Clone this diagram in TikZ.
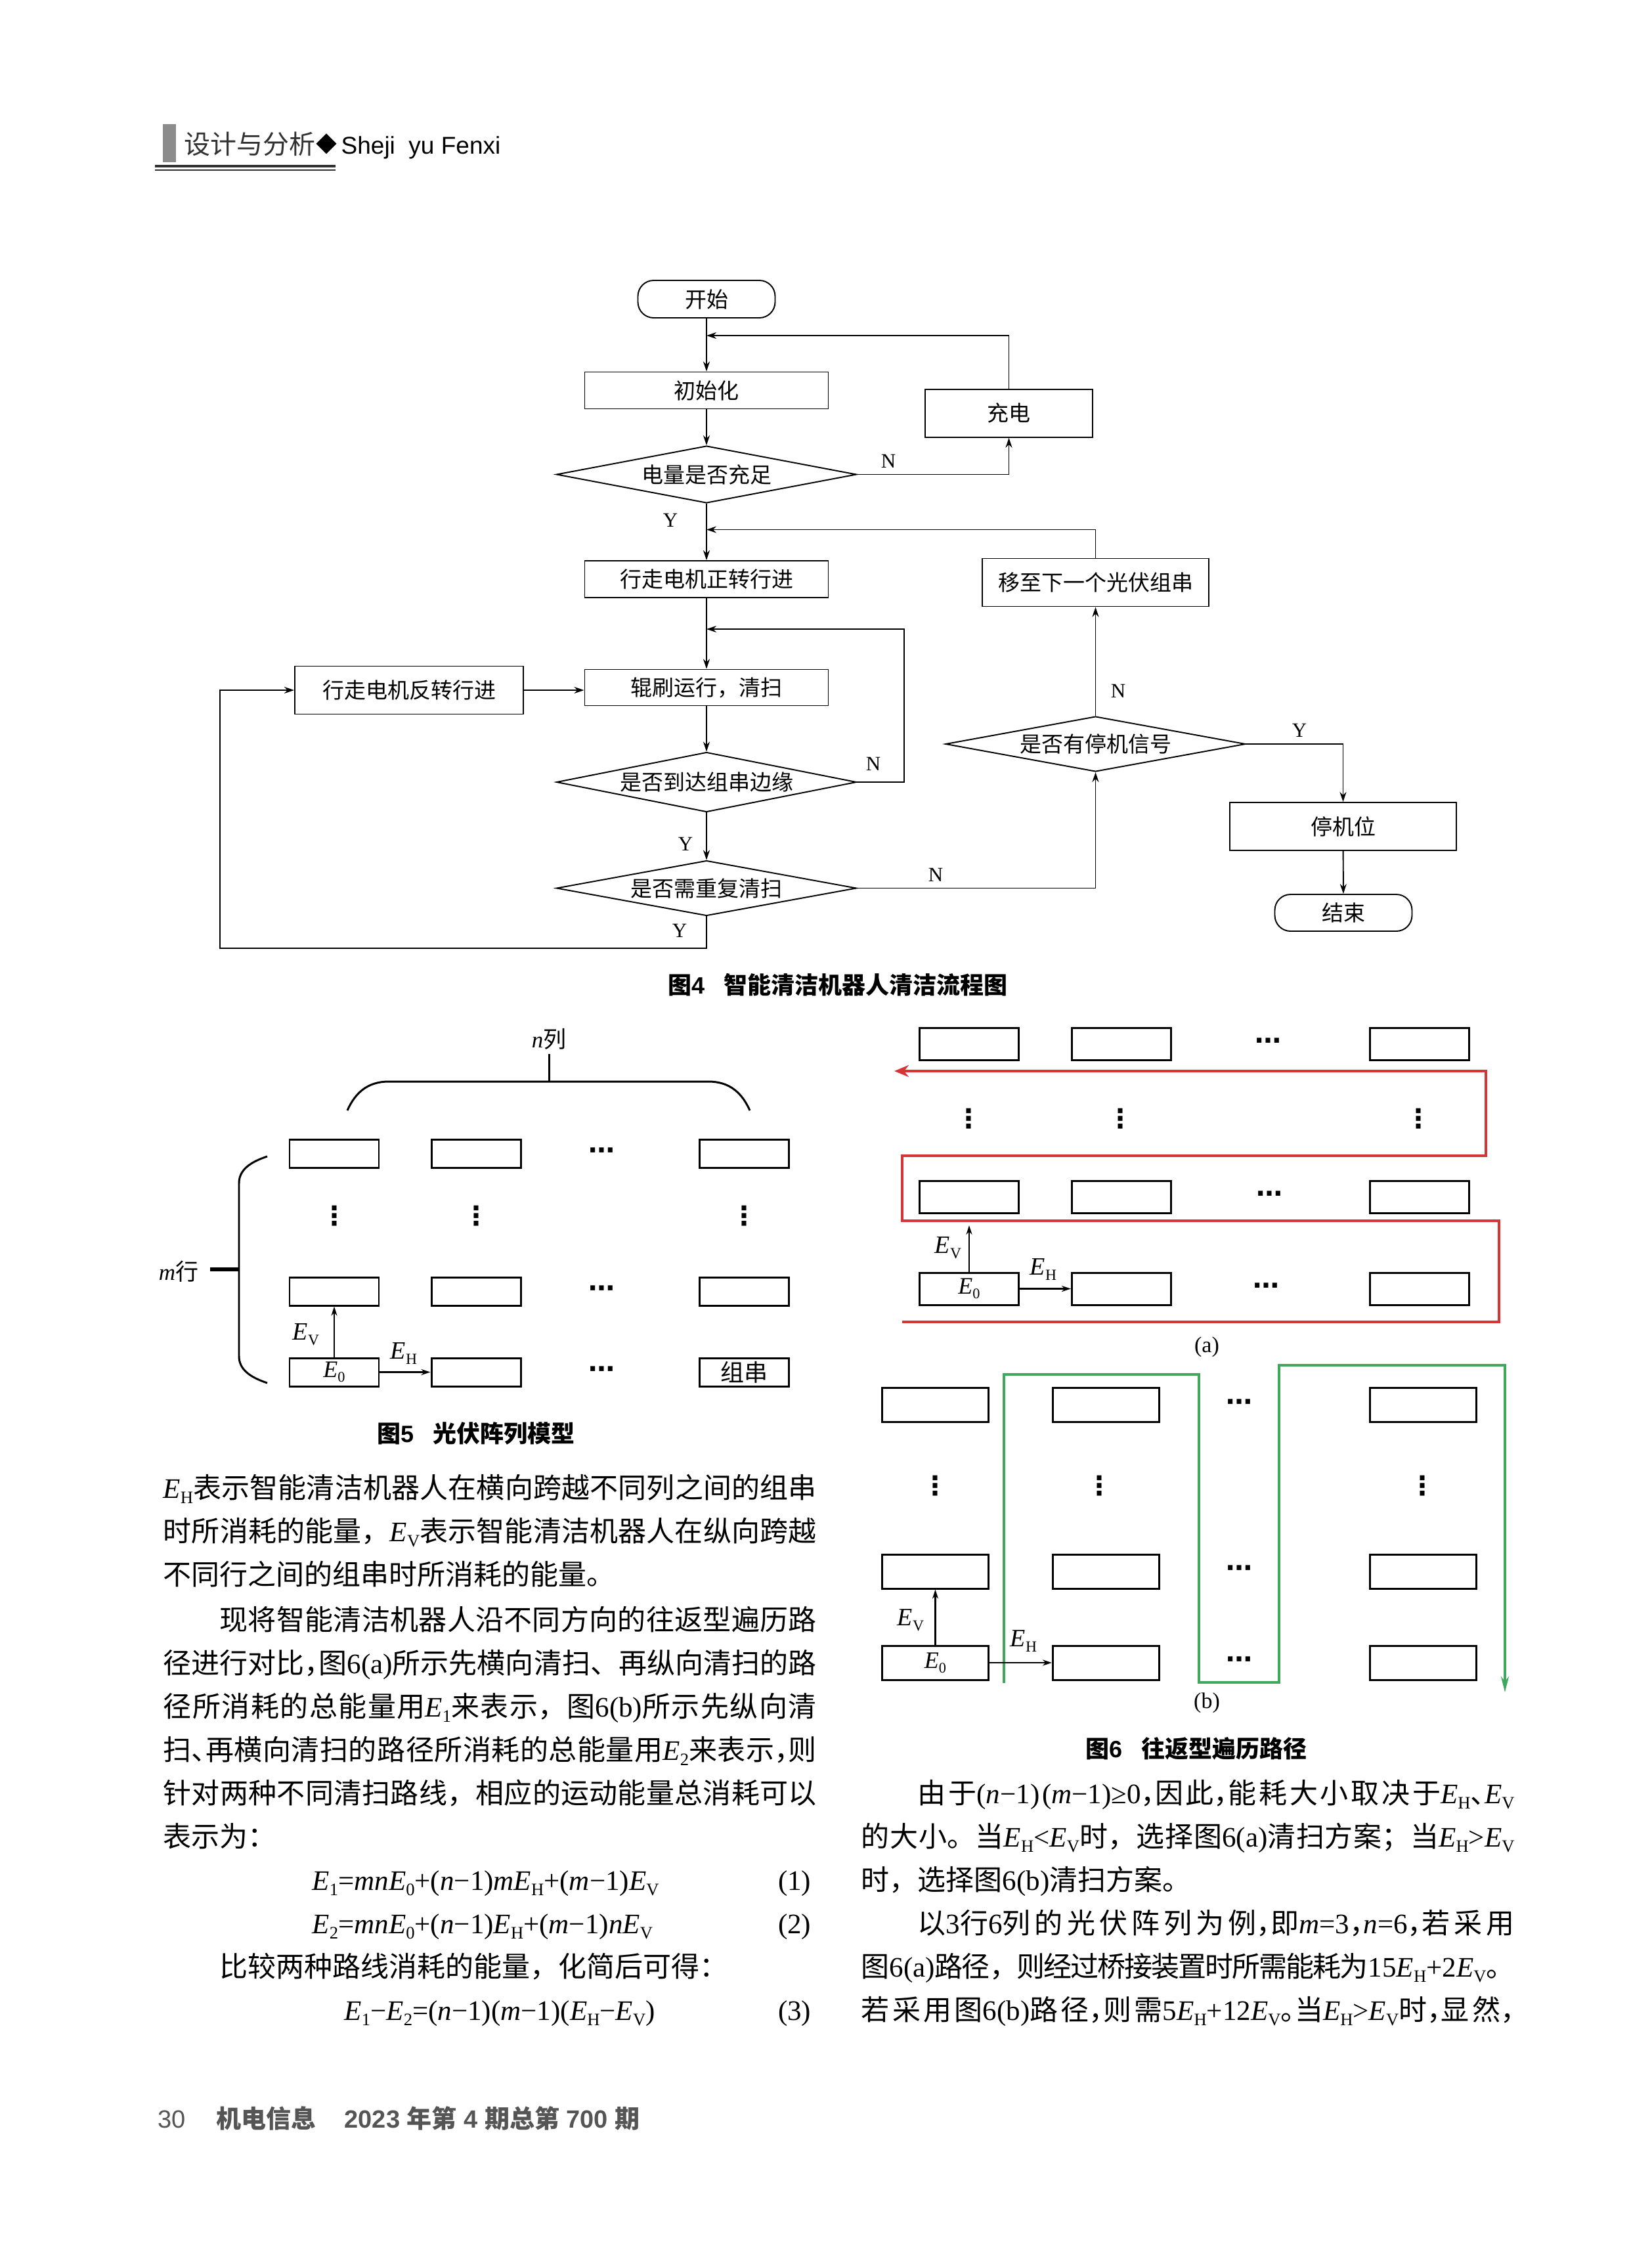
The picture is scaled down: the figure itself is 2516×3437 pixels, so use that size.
\documentclass[tikz,border=0pt]{standalone}
\usepackage{fontspec}
\usepackage{graphicx}
\setmainfont{Liberation Serif}
\setsansfont{Liberation Sans}
\newfontfamily\cjkfamily{Noto Sans CJK SC}
\newfontfamily\dejavu{DejaVu Sans}
\usetikzlibrary{shapes.geometric,arrows.meta}

\newlength\pxu \setlength\pxu{0.1mm}
\newlength\pxtmp
\newcommand\fsz[1]{\pxtmp=#1\pxu\relax\fontsize{\the\pxtmp}{\the\dimexpr 1.2\pxtmp\relax}\selectfont}
\newcommand\latinfamily{\rmfamily}

% automatic switch between Latin and CJK fonts
\XeTeXinterchartokenstate=1
\newXeTeXintercharclass\CJKcls
\newcount\cjkcnt
\cjkcnt="3000 \loop \XeTeXcharclass\cjkcnt=\CJKcls \advance\cjkcnt by 1 \ifnum\cjkcnt<"3040 \repeat
\cjkcnt="4E00 \loop \XeTeXcharclass\cjkcnt=\CJKcls \advance\cjkcnt by 1 \ifnum\cjkcnt<"A000 \repeat
\cjkcnt="FF00 \loop \XeTeXcharclass\cjkcnt=\CJKcls \advance\cjkcnt by 1 \ifnum\cjkcnt<"FF60 \repeat
\XeTeXcharclass"25C6=\CJKcls
\XeTeXinterchartoks 0 \CJKcls={\cjkfamily}
\XeTeXinterchartoks 4095 \CJKcls={\cjkfamily}
\XeTeXinterchartoks \CJKcls 0={\latinfamily}
\XeTeXinterchartoks \CJKcls 4095={\latinfamily}
\XeTeXlinebreaklocale "zh"
\XeTeXlinebreakskip=0pt plus 8pt minus 1pt
\XeTeXlinebreakpenalty=10000

\newcommand\EE[1]{{\latinfamily\itshape E}{\latinfamily\upshape\raisebox{-0.2em}{\scalebox{0.62}{#1}}}\latinfamily}
\newcommand\mi[1]{{\latinfamily\itshape #1}\latinfamily}
\newcommand\hp[1]{\makebox[0.5em][l]{#1}\latinfamily}
\newcommand\fl[2]{\parbox[b]{#1mm}{\parfillskip=0pt\relax #2}}

\definecolor{hdrgray}{RGB}{140,140,140}
\definecolor{hdrdark}{RGB}{50,50,50}
\definecolor{ftgray}{RGB}{85,85,85}
\definecolor{pathred}{RGB}{215,52,56}
\definecolor{pathgreen}{RGB}{64,168,92}

\begin{document}
\begin{tikzpicture}[x=0.1mm,y=-0.1mm,
 fcl/.style={line width=0.55pt},
 arr/.style={fcl,-{Stealth[length=1.5mm,width=1mm]}},
 pbox/.style 2 args={draw,fcl,inner sep=0pt,minimum width=#1mm,minimum height=#2mm,font=\fsz{33}\rmfamily},
 term/.style 2 args={pbox={#1}{#2},rounded corners=2.4mm},
 dia/.style 2 args={draw,fcl,shape=diamond,aspect=5.2,inner sep=0pt,minimum width=#1mm,minimum height=#2mm,font=\fsz{33}\rmfamily},
 yn/.style={inner sep=0pt,font=\fsz{31}\rmfamily},
 capt/.style={inner sep=0pt,font={\def\latinfamily{\sffamily}\fsz{36}\sffamily\bfseries}},
 pv/.style 2 args={draw,line width=0.85pt,inner sep=0pt,minimum width=#1mm,minimum height=#2mm,font=\fsz{36}\rmfamily},
 flab/.style={inner sep=0pt,font=\fsz{38}\rmfamily},
 hd/.style={inner sep=0pt,font=\dejavu\bfseries\fsz{40}},
 farr/.style={line width=0.7pt,-{Stealth[length=1.4mm,width=0.9mm]}},
 body/.style={inner sep=0pt,anchor=base west,font=\fsz{43}\rmfamily},
 brace/.style={line width=0.85pt},
 sublab/.style={inner sep=0pt,font=\fsz{34}\rmfamily},
]
\path[use as bounding box,fill=white] (0,0) rectangle (2516,3437);

% ---------------- header ----------------
\fill[hdrgray] (248,189) rectangle (268,247);
\node[anchor=base west,inner sep=0pt,text=hdrdark,font=\fsz{40}\sffamily] (hd1) at (280,234) {设计与分析};
\node[inner sep=0pt,font=\fsz{32}\sffamily] (hd2) at (497,219) {◆};
\node[anchor=base west,inner sep=0pt,font=\fsz{37}\sffamily] (hd3) at (519,234) {Sheji\ \ yu Fenxi};
\draw[hdrdark,line width=1.1pt] (236,253) -- (511,253);
\draw[hdrdark,line width=0.6pt] (236,259) -- (511,259);

% ---------------- figure 4: flowchart ----------------
\node[term={20.9}{5.7}] (start) at (1076,455.5) {开始};
\node[pbox={37.1}{5.6}] (init) at (1076,594.5) {初始化};
\node[pbox={25.5}{7.3}] (charge) at (1536.5,629.3) {充电};
\node[dia={45.7}{8.7}] (d1) at (1076,722.5) {电量是否充足};
\node[pbox={37.1}{5.6}] (fwd) at (1076,882) {行走电机正转行进};
\node[pbox={34.5}{7.3}] (next) at (1668.5,887) {移至下一个光伏组串};
\node[pbox={37.1}{5.5}] (brush) at (1076,1047) {辊刷运行，清扫};
\node[pbox={34.8}{7.3}] (rev) at (623,1051) {行走电机反转行进};
\node[dia={45.7}{9.1}] (d2) at (1076,1191) {是否到达组串边缘};
\node[dia={45.7}{8.4}] (d3) at (1076,1352.5) {是否需重复清扫};
\node[dia={45.7}{8.4}] (d4) at (1668.5,1133) {是否有停机信号};
\node[pbox={34.5}{7.3}] (park) at (2045.5,1258.5) {停机位};
\node[term={20.9}{5.6}] (stop) at (2046,1390) {结束};

\coordinate (j1) at (1076,511);
\coordinate (j2) at (1076,806.5);
\coordinate (j3) at (1076,958);
\coordinate (k3) at (1377,958);
\coordinate (k4) at (335,1444);

\draw[arr] (start) -- (init);
\draw[arr] (charge.north) |- (j1);
\draw[arr] (init) -- (d1);
\draw[arr] (d1.east) -| (charge.south);
\draw[arr] (d1) -- (fwd);
\draw[arr] (next.north) |- (j2);
\draw[arr] (fwd) -- (brush);
\draw[arr] (d2.east) -| (k3) -- (j3);
\draw[arr] (rev.east) -- (rev.east -| brush.west);
\draw[arr] (brush) -- (d2);
\draw[arr] (d2) -- (d3);
\draw[arr] (d3.east) -| (d4.south);
\draw[arr] (d3.south) |- (k4) |- (rev.west);
\draw[arr] (d4) -- (next);
\draw[arr] (d4.east) -| (park.north);
\draw[arr] (park) -- (stop);

\node[yn] (n1) at (1353,702) {N};
\node[yn] (y1) at (1021,792) {Y};
\node[yn] (n2) at (1330,1163) {N};
\node[yn] (y2) at (1044,1285) {Y};
\node[yn] (n3) at (1425,1332) {N};
\node[yn] (y3) at (1035,1417) {Y};
\node[yn] (n4) at (1703,1052) {N};
\node[yn] (y4) at (1979,1112) {Y};

\node[capt] (cap4) at (1276,1500) {图4\hspace{0.8em}智能清洁机器人清洁流程图};

% ---------------- figure 5 ----------------
\node[pv={13.6}{4.3}] (fa11) at (509,1756.5) {};
\node[pv={13.6}{4.3}] (fa12) at (725,1756.5) {};
\node[pv={13.6}{4.3}] (fa14) at (1133,1756.5) {};
\node[pv={13.6}{4.3}] (fa21) at (509,1966.5) {};
\node[pv={13.6}{4.3}] (fa22) at (725,1966.5) {};
\node[pv={13.6}{4.3}] (fa24) at (1133,1966.5) {};
\node[pv={13.6}{4.3}] (fa31) at (509,2089.5) {\EE{0}};
\node[pv={13.6}{4.3}] (fa32) at (725,2089.5) {};
\node[pv={13.6}{4.3}] (fa34) at (1133,2089.5) {组串};
\node[hd] (fh1) at (916,1756.5) {⋯};
\node[hd] (fh2) at (916,1966.5) {⋯};
\node[hd] (fh3) at (916,2089.5) {⋯};
\node[hd] (fv1) at (509,1852) {⋮};
\node[hd] (fv2) at (725,1852) {⋮};
\node[hd] (fv4) at (1133,1852) {⋮};
\draw[farr] (fa31) -- (fa21);
\draw[farr] (fa31) -- (fa32);
\node[flab] (fev) at (466,2032) {\EE{V}};
\node[flab] (feh) at (615,2061) {\EE{H}};
\draw[brace] (529,1691) .. controls (541,1664) and (560,1647) .. (592,1647) -- (1079,1647) .. controls (1111,1647) and (1130,1664) .. (1142,1691);
\draw[brace] (836,1605) -- (836,1647);
\node[inner sep=0pt,font=\fsz{35}\rmfamily] (ncol) at (836,1582) {\mi{n}列};
\draw[brace] (407,1761) .. controls (380,1770) and (364,1782) .. (364,1802) -- (364,2065) .. controls (364,2085) and (380,2097) .. (407,2106);
\draw[line width=1.5pt] (320,1933) -- (364,1933);
\node[inner sep=0pt,font=\fsz{35}\rmfamily] (mrow) at (272,1936) {\mi{m}行};
\node[capt] (cap5) at (725,2183) {图5\hspace{0.8em}光伏阵列模型};

% ---------------- figure 6(a) ----------------
\node[pv={15.1}{4.9}] (ga11) at (1476,1589.5) {};
\node[pv={15.1}{4.9}] (ga12) at (1708,1589.5) {};
\node[pv={15.1}{4.9}] (ga14) at (2162,1589.5) {};
\node[pv={15.1}{4.9}] (ga21) at (1476,1823) {};
\node[pv={15.1}{4.9}] (ga22) at (1708,1823) {};
\node[pv={15.1}{4.9}] (ga24) at (2162,1823) {};
\node[pv={15.1}{4.9}] (ga31) at (1476,1962.5) {\EE{0}};
\node[pv={15.1}{4.9}] (ga32) at (1708,1962.5) {};
\node[pv={15.1}{4.9}] (ga34) at (2162,1962.5) {};
\node[hd] (gh1) at (1931,1589.5) {⋯};
\node[hd] (gh2) at (1933,1823) {⋯};
\node[hd] (gh3) at (1928,1962.5) {⋯};
\node[hd] (gv1) at (1475,1704) {⋮};
\node[hd] (gv2) at (1706,1704) {⋮};
\node[hd] (gv4) at (2160,1704) {⋮};
\coordinate (r0) at (1374,2013);
\coordinate (r1) at (2283,2013);
\coordinate (r2) at (2283,1859);
\coordinate (r3) at (1374,1859);
\coordinate (r4) at (1374,1760);
\coordinate (r5) at (2263,1760);
\coordinate (r6) at (2263,1631);
\coordinate (r7) at (1362,1631);
\draw[pathred,line width=1.3pt,-{Stealth[length=2.2mm,width=1.8mm]}] (r0) -- (r1) -- (r2) -- (r3) -- (r4) -- (r5) -- (r6) -- (r7);
\coordinate (gev) at (1476,1866);
\draw[farr] (ga31) -- (gev);
\draw[farr] (ga31) -- (ga32);
\node[flab] (gevl) at (1444,1900) {\EE{V}};
\node[flab] (gehl) at (1589,1933) {\EE{H}};
\node[sublab] (suba) at (1838,2051) {(a)};

% ---------------- figure 6(b) ----------------
\node[pv={16.2}{5.2}] (hb11) at (1424.5,2139.7) {};
\node[pv={16.2}{5.2}] (hb12) at (1684.4,2139.7) {};
\node[pv={16.2}{5.2}] (hb14) at (2167.8,2139.7) {};
\node[pv={16.2}{5.2}] (hb21) at (1424.5,2393) {};
\node[pv={16.2}{5.2}] (hb22) at (1684.4,2393) {};
\node[pv={16.2}{5.2}] (hb24) at (2167.8,2393) {};
\node[pv={16.2}{5.2}] (hb31) at (1424.5,2532) {\EE{0}};
\node[pv={16.2}{5.2}] (hb32) at (1684.4,2532) {};
\node[pv={16.2}{5.2}] (hb34) at (2167.8,2532) {};
\node[hd] (hh1) at (1887,2139.7) {⋯};
\node[hd] (hh2) at (1887,2393) {⋯};
\node[hd] (hh3) at (1887,2532) {⋯};
\node[hd] (hv1) at (1424,2263) {⋮};
\node[hd] (hv2) at (1674,2263) {⋮};
\node[hd] (hv4) at (2166,2263) {⋮};
\coordinate (g0) at (1529,2563);
\coordinate (g1) at (1529,2093);
\coordinate (g2) at (1826,2093);
\coordinate (g3) at (1826,2562);
\coordinate (g4) at (1948,2562);
\coordinate (g5) at (1948,2079);
\coordinate (g6) at (2292,2079);
\coordinate (g7) at (2292,2577);
\draw[pathgreen,line width=1.1pt,-{Stealth[length=2.4mm,width=1.2mm]}] (g0) -- (g1) -- (g2) -- (g3) -- (g4) -- (g5) -- (g6) -- (g7);
\draw[farr] (hb31) -- (hb21);
\draw[farr] (hb31) -- (hb32);
\node[flab] (hevl) at (1387,2467) {\EE{V}};
\node[flab] (hehl) at (1559,2499) {\EE{H}};
\node[sublab] (subb) at (1838,2593) {(b)};
\node[capt] (cap6) at (1822,2663) {图6\hspace{0.8em}往返型遍历路径};

% ---------------- body text, left column ----------------
\node[body] (L1) at (248,2281) {\fl{99.5}{\EE{H}表示智能清洁机器人在横向跨越不同列之间的组串}};
\node[body] (L2) at (248,2347) {\fl{99.5}{时所消耗的能量，\EE{V}表示智能清洁机器人在纵向跨越}};
\node[body] (L3) at (248,2413) {不同行之间的组串时所消耗的能量。};
\node[body] (L4) at (334,2482) {\fl{90.9}{现将智能清洁机器人沿不同方向的往返型遍历路}};
\node[body] (L5) at (248,2548) {\fl{99.5}{径进行对比\hp{，}图6(a)所示先横向清扫、再纵向清扫的路}};
\node[body] (L6) at (248,2614) {\fl{99.5}{径所消耗的总能量用\EE{1}来表示，图6(b)所示先纵向清}};
\node[body] (L7) at (248,2680) {\fl{99.5}{扫\hp{、}再横向清扫的路径所消耗的总能量用\EE{2}来表示\hp{，}则}};
\node[body] (L8) at (248,2746) {\fl{99.5}{针对两种不同清扫路线，相应的运动能量总消耗可以}};
\node[body] (L9) at (248,2812) {表示为：};
\node[body] (eq1) at (475,2878) {\EE{1}=\mi{mn}\EE{0}+(\mi{n}−1)\mi{m}\EE{H}+(\mi{m}−1)\EE{V}};
\node[body,anchor=base east] (eqn1) at (1236,2878) {(1)};
\node[body] (eq2) at (475,2944) {\EE{2}=\mi{mn}\EE{0}+(\mi{n}−1)\EE{H}+(\mi{m}−1)\mi{n}\EE{V}};
\node[body,anchor=base east] (eqn2) at (1236,2944) {(2)};
\node[body] (L10) at (334,3010) {比较两种路线消耗的能量，化简后可得：};
\node[body] (eq3) at (524,3076) {\EE{1}−\EE{2}=(\mi{n}−1)(\mi{m}−1)(\EE{H}−\EE{V})};
\node[body,anchor=base east] (eqn3) at (1236,3076) {(3)};

% ---------------- body text, right column ----------------
\node[body] (R1) at (1397,2746) {\fl{90.9}{由于(\mi{n}−1)(\mi{m}−1)≥0\hp{，}因此\hp{，}能耗大小取决于\EE{H}\hp{、}\EE{V}}};
\node[body] (R2) at (1311,2812) {\fl{99.5}{的大小。当\EE{H}<\EE{V}时，选择图6(a)清扫方案；当\EE{H}>\EE{V}}};
\node[body] (R3) at (1311,2878) {时，选择图6(b)清扫方案。};
\node[body] (R4) at (1397,2944) {\fl{90.9}{以3行6列的光伏阵列为例\hp{，}即\mi{m}=3\hp{，}\mi{n}=6\hp{，}若采用}};
\node[body] (R5) at (1311,3010) {\fl{99.5}{图6(a)路径，则经过桥接装置时所需能耗为15\EE{H}+2\EE{V}。}};
\node[body] (R6) at (1311,3076) {\fl{99.5}{若采用图6(b)路径\hp{，}则需5\EE{H}+12\EE{V}\hp{。}当\EE{H}>\EE{V}时\hp{，}显然\hp{，}}};

% ---------------- footer ----------------
\node[anchor=base west,inner sep=0pt,text=ftgray,font=\fsz{38}\sffamily] (ft1) at (240,3240) {30};
\node[anchor=base west,inner sep=0pt,text=ftgray,font={\def\latinfamily{\sffamily}\fsz{38}\sffamily\bfseries}] (ft2) at (329,3240) {机电信息};
\node[anchor=base west,inner sep=0pt,text=ftgray,font={\def\latinfamily{\sffamily}\fsz{38}\sffamily\bfseries}] (ft3) at (524,3240) {2023 年第 4 期总第 700 期};
\end{tikzpicture}
\end{document}
